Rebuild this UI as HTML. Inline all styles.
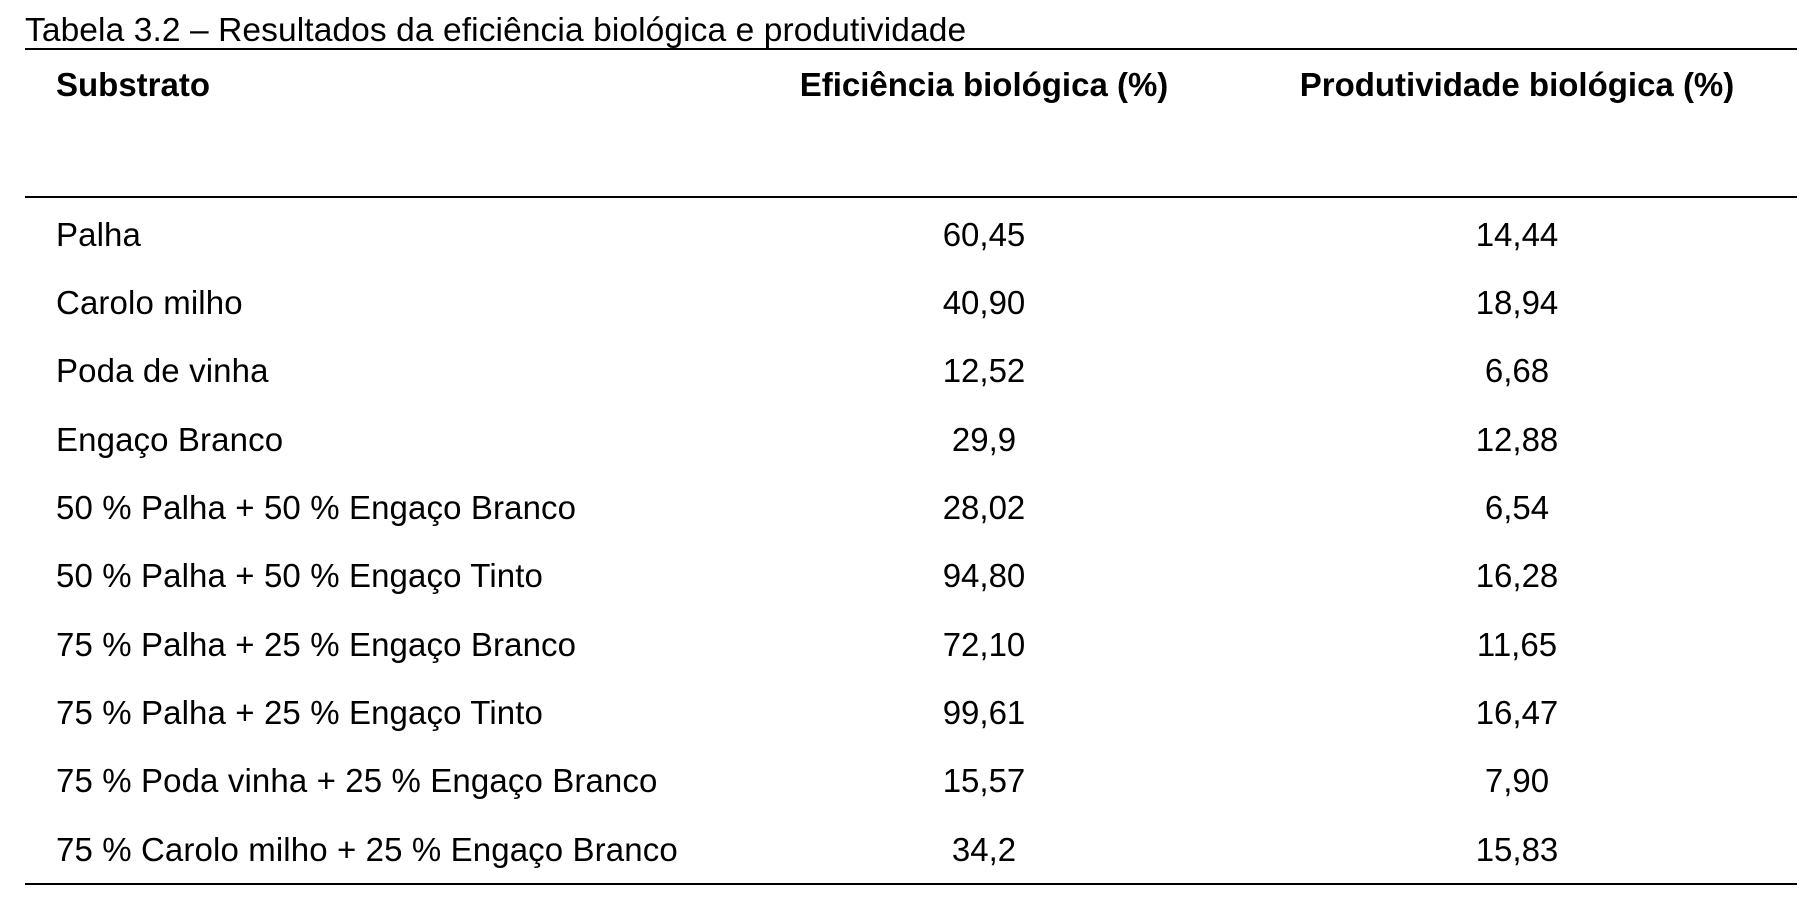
<!DOCTYPE html>
<html><head><meta charset="utf-8"><style>
html,body{margin:0;padding:0;background:#fff;}
body{width:1816px;height:899px;position:relative;overflow:hidden;font-family:"Liberation Sans",Arial,sans-serif;color:#000;font-size:33px;}
.t{position:absolute;white-space:nowrap;line-height:1;}
.l{position:absolute;left:25px;width:1772px;height:2px;background:#000;}
.c2{left:984px;transform:translateX(-50%);}
.c3{left:1517px;transform:translateX(-50%);}
.r{letter-spacing:0.12px;}
</style></head><body>
<div class="t" style="left:25px;top:14px;font-size:33.5px;letter-spacing:0.1px;">Tabela 3.2 – Resultados da eficiência biológica e produtividade</div>
<div class="l" style="top:48px;"></div>
<div class="t" style="left:56px;top:68px;font-weight:bold;">Substrato</div>
<div class="t c2" style="top:68px;font-weight:bold;">Eficiência biológica (%)</div>
<div class="t c3" style="top:68px;font-weight:bold;">Produtividade biológica (%)</div>
<div class="l" style="top:196px;"></div>

<div class="t r" style="left:56px;top:218px;">Palha</div><div class="t c2" style="top:218px;">60,45</div><div class="t c3" style="top:218px;">14,44</div>
<div class="t r" style="left:56px;top:286px;">Carolo milho</div><div class="t c2" style="top:286px;">40,90</div><div class="t c3" style="top:286px;">18,94</div>
<div class="t r" style="left:56px;top:354px;">Poda de vinha</div><div class="t c2" style="top:354px;">12,52</div><div class="t c3" style="top:354px;">6,68</div>
<div class="t r" style="left:56px;top:423px;">Engaço Branco</div><div class="t c2" style="top:423px;">29,9</div><div class="t c3" style="top:423px;">12,88</div>
<div class="t r" style="left:56px;top:491px;">50 % Palha + 50 % Engaço Branco</div><div class="t c2" style="top:491px;">28,02</div><div class="t c3" style="top:491px;">6,54</div>
<div class="t r" style="left:56px;top:559px;">50 % Palha + 50 % Engaço Tinto</div><div class="t c2" style="top:559px;">94,80</div><div class="t c3" style="top:559px;">16,28</div>
<div class="t r" style="left:56px;top:628px;">75 % Palha + 25 % Engaço Branco</div><div class="t c2" style="top:628px;">72,10</div><div class="t c3" style="top:628px;">11,65</div>
<div class="t r" style="left:56px;top:696px;">75 % Palha + 25 % Engaço Tinto</div><div class="t c2" style="top:696px;">99,61</div><div class="t c3" style="top:696px;">16,47</div>
<div class="t r" style="left:56px;top:764px;">75 % Poda vinha + 25 % Engaço Branco</div><div class="t c2" style="top:764px;">15,57</div><div class="t c3" style="top:764px;">7,90</div>
<div class="t r" style="left:56px;top:833px;">75 % Carolo milho + 25 % Engaço Branco</div><div class="t c2" style="top:833px;">34,2</div><div class="t c3" style="top:833px;">15,83</div>
<div class="l" style="top:883px;"></div>
</body></html>
